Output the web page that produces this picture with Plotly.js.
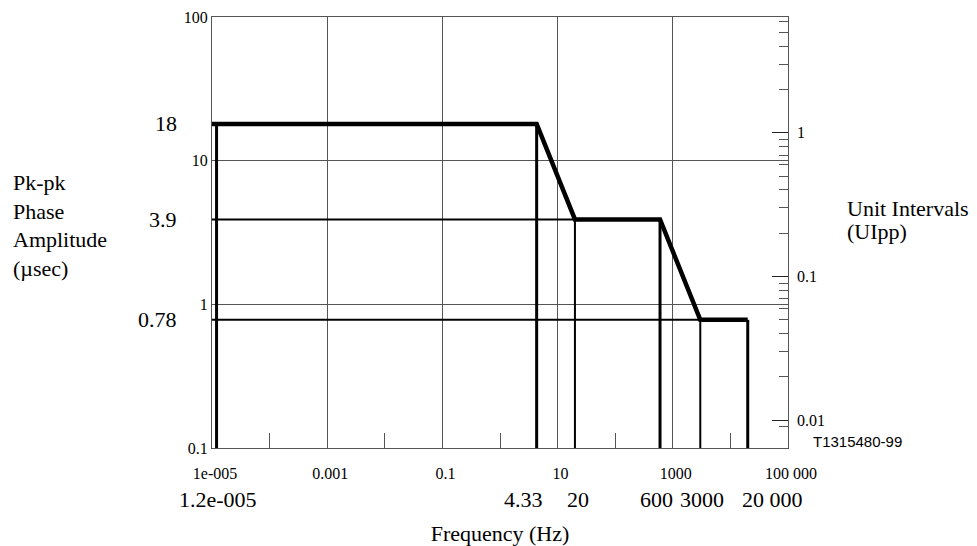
<!DOCTYPE html>
<html>
<head>
<meta charset="utf-8">
<script src="https://cdn.plot.ly/plotly-3.0.1.min.js"></script>
<style>html,body{margin:0;padding:0;background:#fff;}#chart{width:977px;height:546px;}</style>
</head>
<body>
<div id="chart"></div>
<script>
// ---- data ----
const freqRange = [1e-5, 1e5];
const ampRange = [0.1, 100];
const freqTickVals = [1e-5, 1e-3, 0.1, 10, 1000, 1e5];
const freqTickText = ['1e-005', '0.001', '0.1', '10', '1000', '100 000'];
const freqMinorVals = [1e-4, 0.01, 1, 100, 1e4];
const ampTickVals = [0.1, 1, 10, 100];
const ampTickText = ['0.1', '1', '10', '100'];
const maskFreq = [1.2e-5, 4.33, 20, 600, 3000, 20000];
const maskAmp = [18, 18, 3.9, 3.9, 0.78, 0.78];
const maskFreqLabels = ['1.2e-005', '4.33', '20', '600', '3000', '20 000'];
const levelVals = [18, 3.9, 0.78];
const levelLabels = ['18', '3.9', '0.78'];
const usPerUI = 15.625;
const uiTickVals = [0.01, 0.1, 1];
const uiTickText = ['0.01', '0.1', '1'];
const uiMinorVals = [0.009, 0.02, 0.03, 0.04, 0.05, 0.06, 0.07, 0.08, 0.09,
                     0.2, 0.3, 0.4, 0.5, 0.6, 0.7, 0.8, 0.9, 2, 3, 4, 5, 6];

// ---- styling (label nudges in px, as in the original drawing) ----
const freqLabelShift = [1, -13, 3, -4, 2, 25];

// ---- build traces ----
const serif = 'Liberation Serif, Times New Roman, serif';
const floor = ampRange[0];
const xStart = freqRange[0];

// main mask line, starting at the left axis
const maskX = [xStart].concat(maskFreq);
const maskY = [maskAmp[0]].concat(maskAmp);

// vertical drops from every corner to the floor
const thickIdx = [0, 1, 3, 5];
const thinIdx = [2, 4];
function drops(idx) {
  const x = [], y = [];
  idx.forEach(i => { x.push(maskFreq[i], maskFreq[i], null); y.push(floor, maskAmp[i], null); });
  return {x, y};
}
const dThick = drops(thickIdx);
const dThin = drops(thinIdx);

// horizontal guides from left axis to where each lower level begins
const gx = [], gy = [];
[2, 4].forEach(i => { gx.push(xStart, maskFreq[i], null); gy.push(maskAmp[i], maskAmp[i], null); });

const traces = [
  {x: gx, y: gy, mode: 'lines', line: {color: '#000', width: 2}, hoverinfo: 'skip', showlegend: false},
  {x: dThin.x, y: dThin.y, mode: 'lines', line: {color: '#000', width: 2}, hoverinfo: 'skip', showlegend: false},
  {x: dThick.x, y: dThick.y, mode: 'lines', line: {color: '#000', width: 3}, hoverinfo: 'skip', showlegend: false},
  {x: maskX, y: maskY, mode: 'lines', line: {color: '#000', width: 4.5}, hoverinfo: 'skip', showlegend: false},
  {x: maskFreq, y: maskAmp.map(a => a / usPerUI), yaxis: 'y2', mode: 'markers',
   marker: {opacity: 0}, hoverinfo: 'skip', showlegend: false}
];

const annotations = [];
levelVals.forEach((v, i) => annotations.push({
  xref: 'paper', yref: 'y', x: 0, y: Math.log10(v), xanchor: 'right', yanchor: 'middle',
  xshift: -33, text: levelLabels[i], showarrow: false, font: {family: serif, size: 22, color: '#000'}
}));
maskFreq.forEach((f, i) => annotations.push({
  xref: 'x', yref: 'paper', x: Math.log10(f), y: 0, xanchor: 'center', yanchor: 'top',
  yshift: -37, xshift: freqLabelShift[i], text: maskFreqLabels[i], showarrow: false,
  font: {family: serif, size: 22, color: '#000'}
}));
annotations.push({
  xref: 'paper', yref: 'paper', x: 0, y: 0.517, xanchor: 'left', yanchor: 'middle', xshift: -201,
  align: 'left', text: 'Pk-pk<br>Phase<br>Amplitude<br>(µsec)', showarrow: false,
  font: {family: serif, size: 22, color: '#000'}
});
annotations.push({
  xref: 'paper', yref: 'paper', x: 1, y: 0.555, xanchor: 'left', yanchor: 'middle', xshift: 57,
  align: 'left', text: 'Unit Intervals', showarrow: false,
  font: {family: serif, size: 22, color: '#000'}
});
annotations.push({
  xref: 'paper', yref: 'paper', x: 1, y: 0.502, xanchor: 'left', yanchor: 'middle', xshift: 57,
  align: 'left', text: '(UIpp)', showarrow: false,
  font: {family: serif, size: 22, color: '#000'}
});
annotations.push({
  xref: 'paper', yref: 'paper', x: 1, y: 0.014, xanchor: 'left', yanchor: 'middle', xshift: 23,
  text: 'T1315480-99', showarrow: false,
  font: {family: 'Liberation Sans, Arial, sans-serif', size: 15, color: '#000'}
});

const layout = {
  width: 977, height: 546,
  margin: {l: 212, r: 189, t: 17, b: 98},
  paper_bgcolor: '#fff', plot_bgcolor: '#fff',
  showlegend: false,
  font: {family: serif, size: 16, color: '#000'},
  xaxis: {
    type: 'log', range: freqRange.map(Math.log10), tickmode: 'array',
    tickvals: freqTickVals, ticktext: freqTickText, ticks: '',
    ticklabelstandoff: 11, ticklabelshift: 3,
    showgrid: true, gridcolor: '#555', gridwidth: 1, zeroline: false,
    showline: true, mirror: true, linecolor: '#555', linewidth: 1,
    minor: {tickmode: 'array', tickvals: freqMinorVals, ticks: 'inside', ticklen: 15,
            tickcolor: '#555', tickwidth: 1, showgrid: false},
    tickfont: {family: serif, size: 16, color: '#000'},
    title: {text: 'Frequency (Hz)', font: {family: serif, size: 22, color: '#000'}, standoff: 50},
    fixedrange: true
  },
  yaxis: {
    type: 'log', range: ampRange.map(Math.log10), tickmode: 'array',
    tickvals: ampTickVals, ticktext: ampTickText, ticks: '',
    showgrid: true, gridcolor: '#555', gridwidth: 1, zeroline: false,
    showline: true, mirror: true, linecolor: '#555', linewidth: 1,
    tickfont: {family: serif, size: 16, color: '#000'},
    fixedrange: true
  },
  yaxis2: {
    type: 'log', overlaying: 'y', side: 'right',
    range: ampRange.map(a => Math.log10(a / usPerUI)), tickmode: 'array',
    tickvals: uiTickVals, ticktext: uiTickText, ticks: 'inside', ticklen: 16,
    tickcolor: '#222', tickwidth: 1, ticklabelstandoff: 8,
    minor: {tickmode: 'array', tickvals: uiMinorVals, ticks: 'inside', ticklen: 9,
            tickcolor: '#555', tickwidth: 1, showgrid: false},
    showgrid: false, zeroline: false, showline: false,
    tickfont: {family: serif, size: 16, color: '#000'},
    fixedrange: true
  },
  annotations: annotations
};

Plotly.newPlot('chart', traces, layout, {staticPlot: true, displayModeBar: false});
</script>
</body>
</html>
